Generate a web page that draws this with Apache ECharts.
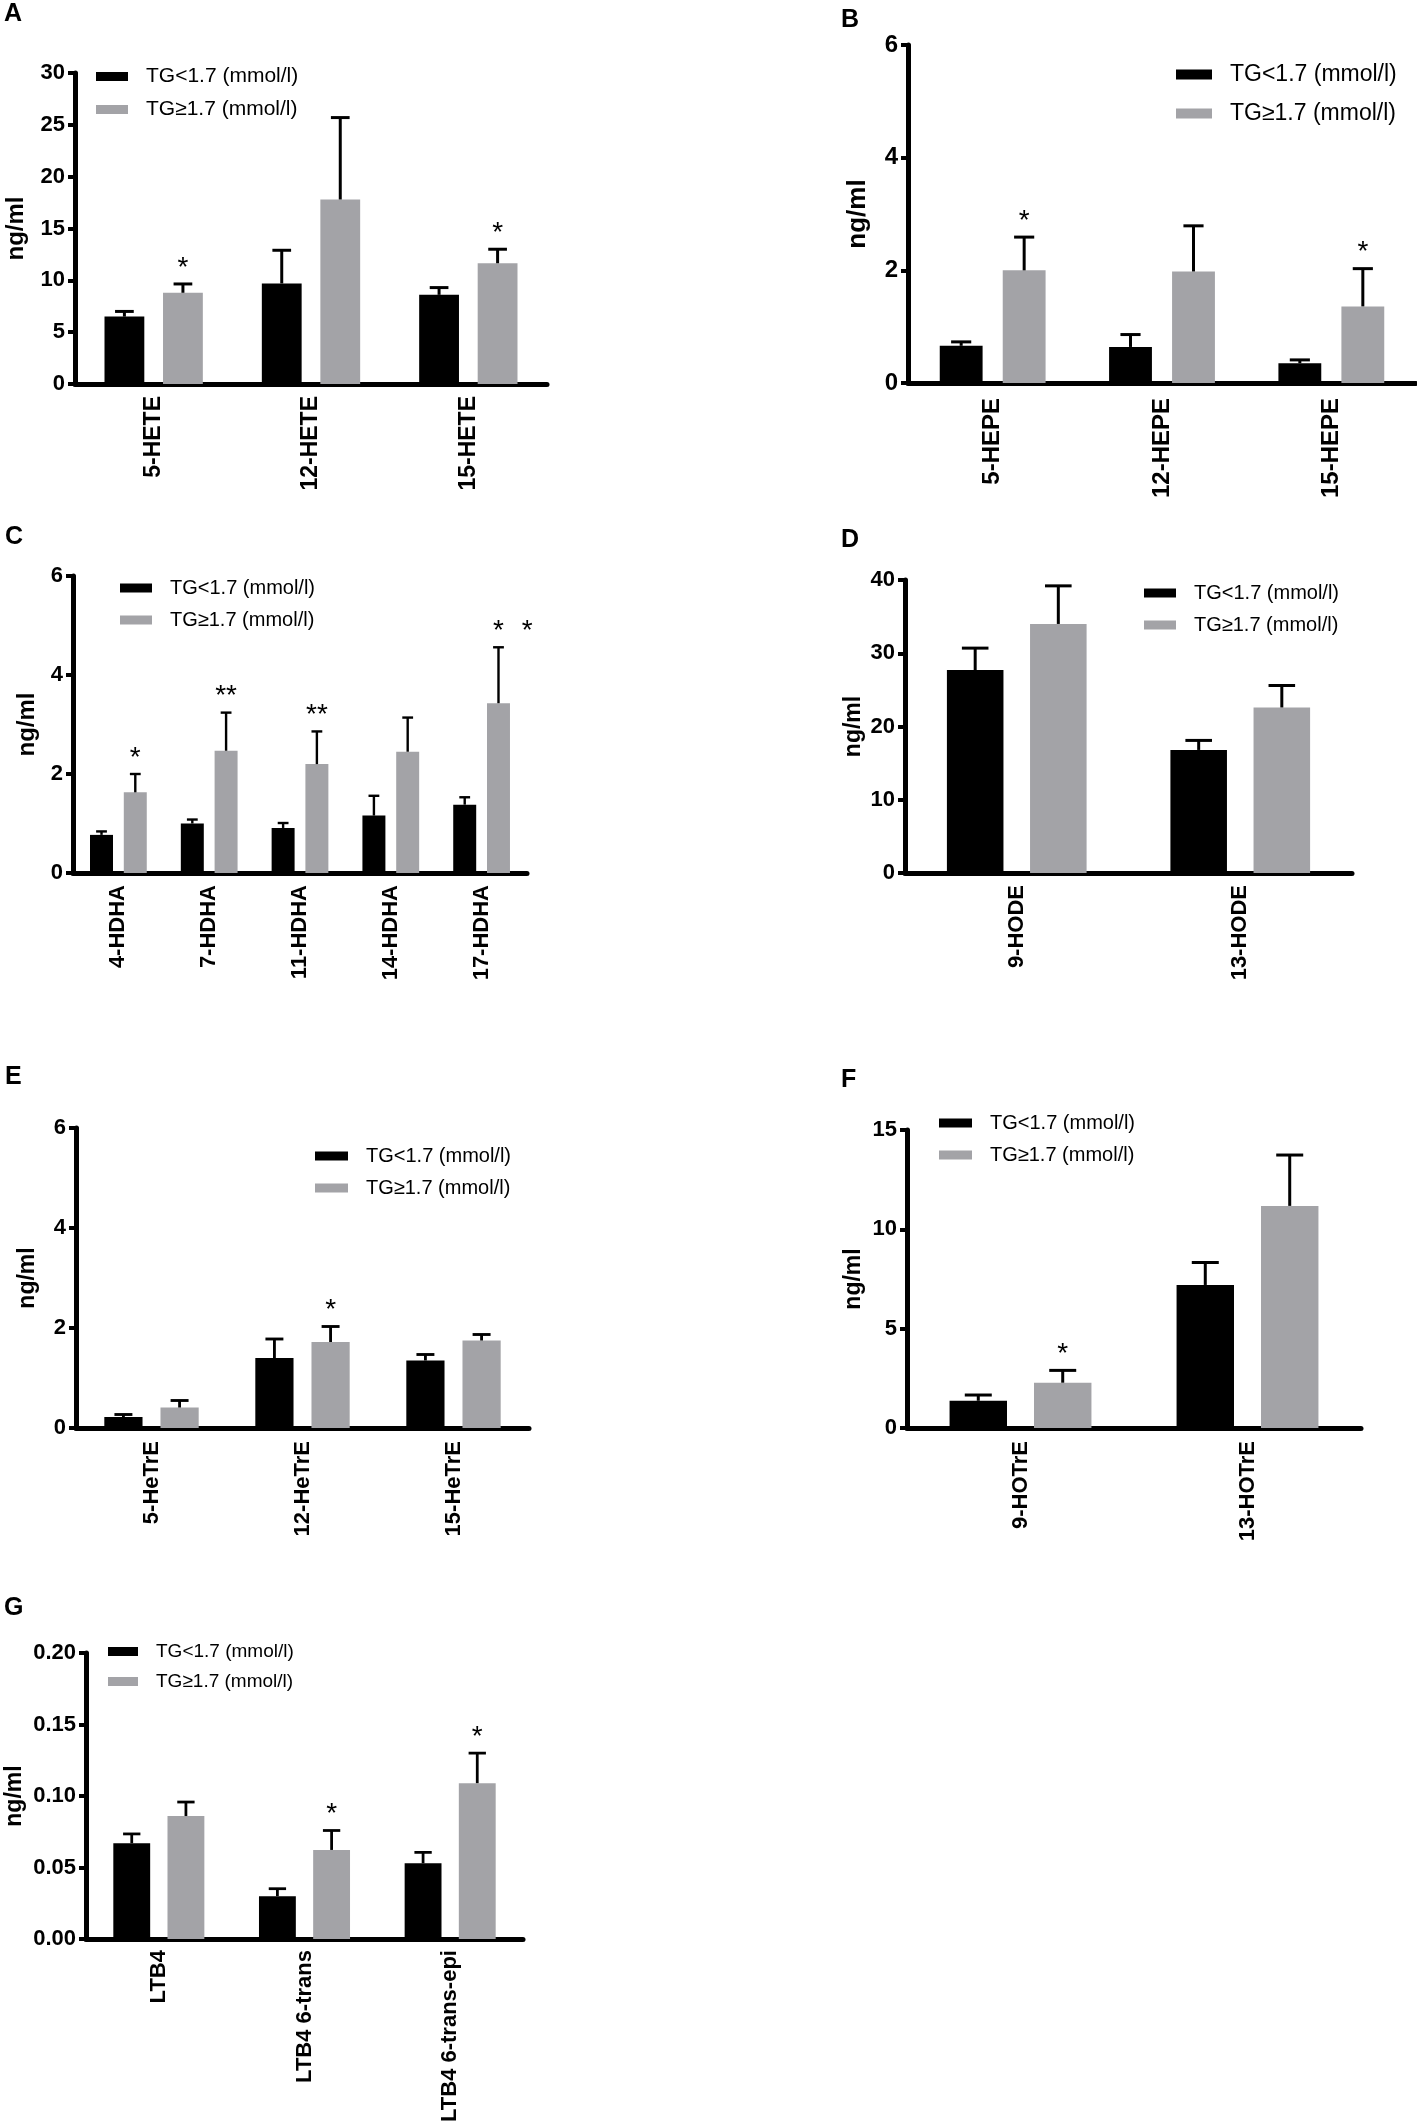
<!DOCTYPE html>
<html lang="en">
<head>
<meta charset="UTF-8">
<title>Oxylipins by TG group</title>
<script src="https://cdn.jsdelivr.net/npm/echarts@6.0.0/dist/echarts.min.js"></script>
<style>
    html, body { margin: 0; padding: 0; background: #fff; }
    #chart { width: 1417px; height: 2125px; }
</style>
</head>
<body>
<div id="chart"></div>
<script>
// ---- data (mean, SEM) ----
const groups = ['TG<1.7 (mmol/l)', 'TG≥1.7 (mmol/l)'];

// A
const catsA = ['5-HETE', '12-HETE', '15-HETE'];
const lowA = [6.5, 9.7, 8.6];
const lowSemA = [0.5, 3.2, 0.7];
const highA = [8.8, 17.8, 11.65];
const highSemA = [0.85, 7.9, 1.35];
const marksA = ['*', '', '*'];

// B
const catsB = ['5-HEPE', '12-HEPE', '15-HEPE'];
const lowB = [0.66, 0.64, 0.35];
const lowSemB = [0.07, 0.22, 0.06];
const highB = [2.0, 1.98, 1.36];
const highSemB = [0.59, 0.81, 0.67];
const marksB = ['*', '', '*'];

// C
const catsC = ['4-HDHA', '7-HDHA', '11-HDHA', '14-HDHA', '17-HDHA'];
const lowC = [0.77, 1.0, 0.91, 1.16, 1.38];
const lowSemC = [0.07, 0.08, 0.1, 0.4, 0.15];
const highC = [1.63, 2.47, 2.2, 2.45, 3.43];
const highSemC = [0.37, 0.77, 0.66, 0.69, 1.13];
const marksC = ['*', '**', '**', '', '* *'];

// D
const catsD = ['9-HODE', '13-HODE'];
const lowD = [27.7, 16.8];
const lowSemD = [3.0, 1.3];
const highD = [34.0, 22.6];
const highSemD = [5.2, 3.0];
const marksD = ['', ''];

// E
const catsE = ['5-HeTrE', '12-HeTrE', '15-HeTrE'];
const lowE = [0.22, 1.4, 1.35];
const lowSemE = [0.05, 0.38, 0.12];
const highE = [0.41, 1.72, 1.75];
const highSemE = [0.14, 0.31, 0.12];
const marksE = ['', '*', ''];

// F
const catsF = ['9-HOTrE', '13-HOTrE'];
const lowF = [1.37, 7.2];
const lowSemF = [0.29, 1.13];
const highF = [2.28, 11.18];
const highSemF = [0.62, 2.56];
const marksF = ['*', ''];

// G
const catsG = ['LTB4', 'LTB4 6-trans', 'LTB4 6-trans-epi'];
const lowG = [0.067, 0.030, 0.053];
const lowSemG = [0.0065, 0.0052, 0.0076];
const highG = [0.086, 0.0623, 0.109];
const highSemG = [0.0098, 0.0136, 0.021];
const marksG = ['', '*', '*'];

// ---- layout / style ----
const FONT = "'Liberation Sans', Arial, Helvetica, sans-serif";
const BLACK = '#000000';
const GREY = '#a3a3a7';
const CAT_GAP = 0.375;
const BAR_GAP = 0.47;

const panels = [
    { key: 'A', cats: catsA, low: lowA, lowSem: lowSemA, high: highA, highSem: highSemA, marks: marksA,
      max: 30, step: 5, digits: 0,
      grid: { left: 75, top: 73, width: 472, height: 311 }, title: { left: 4, top: 2 },
      legend: { left: 96, top: 64, gap: 8, fs: 21, w: 32, h: 9 },
      tickFs: 22, catFs: 23, nameFs: 24, nameGap: 47, catMargin: 12 },
    { key: 'B', cats: catsB, low: lowB, lowSem: lowSemB, high: highB, highSem: highSemB, marks: marksB,
      max: 6, step: 2, digits: 0,
      grid: { left: 908, top: 45, width: 508, height: 338 }, title: { left: 841, top: 8 },
      legend: { left: 1176, top: 61, gap: 12, fs: 23, w: 36, h: 10 },
      tickFs: 24, catFs: 24, nameFs: 26, nameGap: 37, catMargin: 15 },
    { key: 'C', cats: catsC, low: lowC, lowSem: lowSemC, high: highC, highSem: highSemC, marks: marksC,
      max: 6, step: 2, digits: 0,
      grid: { left: 73, top: 576, width: 454, height: 297 }, title: { left: 5, top: 525 },
      legend: { left: 120, top: 576, gap: 8, fs: 20, w: 32, h: 9 },
      tickFs: 22, catFs: 22, nameFs: 24, nameGap: 34, catMargin: 12 },
    { key: 'D', cats: catsD, low: lowD, lowSem: lowSemD, high: highD, highSem: highSemD, marks: marksD,
      max: 40, step: 10, digits: 0,
      grid: { left: 905, top: 580, width: 447, height: 293 }, title: { left: 841, top: 528 },
      legend: { left: 1144, top: 581, gap: 8, fs: 20, w: 32, h: 9 },
      tickFs: 22, catFs: 22, nameFs: 23, nameGap: 40, catMargin: 12 },
    { key: 'E', cats: catsE, low: lowE, lowSem: lowSemE, high: highE, highSem: highSemE, marks: marksE,
      max: 6, step: 2, digits: 0,
      grid: { left: 76, top: 1128, width: 453, height: 300 }, title: { left: 5, top: 1065 },
      legend: { left: 315, top: 1144, gap: 8, fs: 20, w: 33, h: 9 },
      tickFs: 22, catFs: 22, nameFs: 23, nameGap: 37, catMargin: 13 },
    { key: 'F', cats: catsF, low: lowF, lowSem: lowSemF, high: highF, highSem: highSemF, marks: marksF,
      max: 15, step: 5, digits: 0,
      grid: { left: 907, top: 1130, width: 454, height: 298 }, title: { left: 841, top: 1068 },
      legend: { left: 939, top: 1111, gap: 8, fs: 20, w: 33, h: 9 },
      tickFs: 22, catFs: 22, nameFs: 23, nameGap: 42, catMargin: 13 },
    { key: 'G', cats: catsG, low: lowG, lowSem: lowSemG, high: highG, highSem: highSemG, marks: marksG,
      max: 0.2, step: 0.05, digits: 2,
      grid: { left: 86, top: 1653, width: 437, height: 289 }, title: { left: 4, top: 1596 },
      legend: { left: 108, top: 1640, gap: 7, fs: 19, w: 30, h: 9 },
      tickFs: 22, catFs: 22, nameFs: 23, nameGap: 60, catMargin: 11 }
];

// error bar (upward only) + significance stars, placed on the grouped bar
function errorBar(side, marks, starFs) {
    return function (params, api) {
        const i = api.value(0);
        const mean = api.value(1);
        const sem = api.value(2);
        const band = api.size([1, 0])[0];
        const bw = band * (1 - CAT_GAP) / (2 + BAR_GAP);
        const off = bw * (1 + BAR_GAP) / 2 * side;
        const p0 = api.coord([i, mean]);
        const p1 = api.coord([i, mean + sem]);
        const x = p0[0] + off;
        const cap = bw * 0.47;
        const lw = Math.max(2.4, Math.min(3, bw * 0.075));
        const children = [
            { type: 'line', shape: { x1: x, y1: p0[1], x2: x, y2: p1[1] },
              style: { stroke: '#000', lineWidth: lw } },
            { type: 'line', shape: { x1: x - cap / 2, y1: p1[1], x2: x + cap / 2, y2: p1[1] },
              style: { stroke: '#000', lineWidth: lw } }
        ];
        const mark = marks[params.dataIndex] || '';
        const parts = mark.split(' ').filter(s => s);
        parts.forEach(function (s, k) {
            children.push({
                type: 'text',
                style: {
                    x: x + k * bw * 1.25, y: p1[1] - 16, text: s,
                    fill: '#000', font: starFs + 'px ' + FONT,
                    align: 'center', verticalAlign: 'middle'
                }
            });
        });
        return { type: 'group', children: children };
    };
}

const titles = [], grids = [], xAxes = [], yAxes = [], legends = [], series = [];

panels.forEach(function (p, n) {
    titles.push({
        text: p.key, left: p.title.left, top: p.title.top, padding: 0,
        textStyle: { fontFamily: FONT, fontWeight: 'bold', fontSize: 25, lineHeight: 25, color: '#000' }
    });
    grids.push(Object.assign({ containLabel: false }, p.grid));
    xAxes.push({
        type: 'category', gridIndex: n, data: p.cats,
        axisLine: { lineStyle: { color: '#000', width: 5 } },
        axisTick: { alignWithLabel: true, length: 9, lineStyle: { color: '#000', width: 4 } },
        axisLabel: {
            rotate: 90, interval: 0, margin: p.catMargin, color: '#000',
            fontFamily: FONT, fontWeight: 'bold', fontSize: p.catFs
        },
        splitLine: { show: false }
    });
    yAxes.push({
        type: 'value', gridIndex: n, min: 0, max: p.max, interval: p.step,
        name: 'ng/ml', nameLocation: 'middle', nameRotate: 90, nameGap: p.nameGap,
        nameTextStyle: { fontFamily: FONT, fontWeight: 'bold', fontSize: p.nameFs, color: '#000' },
        axisLine: { show: true, lineStyle: { color: '#000', width: 5 } },
        axisTick: { show: true, length: 7, lineStyle: { color: '#000', width: 4 } },
        axisLabel: {
            margin: 10, color: '#000', fontFamily: FONT, fontWeight: 'bold', fontSize: p.tickFs,
            formatter: v => v.toFixed(p.digits)
        },
        splitLine: { show: false }
    });
    legends.push({
        data: groups, orient: 'vertical', left: p.legend.left, top: p.legend.top,
        itemGap: p.legend.gap, itemWidth: p.legend.w, itemHeight: p.legend.h, icon: 'rect', padding: 0,
        textStyle: {
            fontFamily: FONT, fontSize: p.legend.fs, lineHeight: p.legend.fs + 4, color: '#000',
            padding: [0, 0, 0, 13]
        }
    });
    const sets = [[p.low, p.lowSem, BLACK, -1, []], [p.high, p.highSem, GREY, 1, p.marks]];
    sets.forEach(function (s, g) {
        series.push({
            name: groups[g], type: 'bar', xAxisIndex: n, yAxisIndex: n,
            data: s[0], barGap: (BAR_GAP * 100) + '%', barCategoryGap: (CAT_GAP * 100) + '%',
            itemStyle: { color: s[2] }, emphasis: { disabled: true }
        });
    });
    sets.forEach(function (s, g) {
        series.push({
            name: 'err-' + p.key + g, type: 'custom', xAxisIndex: n, yAxisIndex: n, z: 5,
            renderItem: errorBar(s[3], s[4], 28),
            encode: { x: 0, y: 1 },
            data: s[0].map((v, i) => [i, v, s[1][i]])
        });
    });
});

const chart = echarts.init(document.getElementById('chart'));
chart.setOption({
    animation: false,
    backgroundColor: '#fff',
    color: [BLACK, GREY],
    title: titles,
    grid: grids,
    xAxis: xAxes,
    yAxis: yAxes,
    legend: legends,
    tooltip: { show: false },
    series: series
});
</script>
</body>
</html>
